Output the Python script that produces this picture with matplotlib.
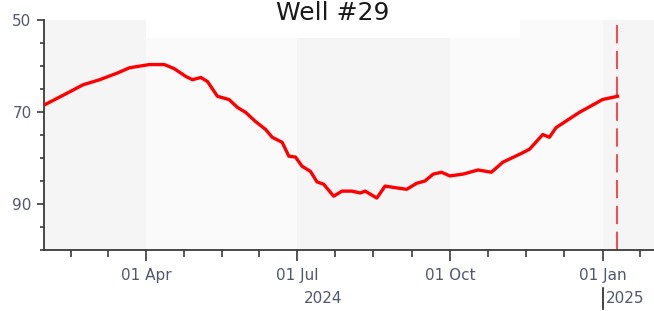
"""Water level chart for Well #29 (depth to water, inverted axis)"""

import matplotlib
matplotlib.use('Agg')
import matplotlib.pyplot as plt
import matplotlib.dates as mdates
from matplotlib.patches import Rectangle
from matplotlib.transforms import blended_transform_factory
import numpy as np
import pandas as pd

# readings
dates = ['2024-01-30', '2024-02-13', '2024-02-23', '2024-03-04',
         '2024-03-15', '2024-03-22', '2024-04-03', '2024-04-12',
         '2024-04-18', '2024-04-25', '2024-04-29', '2024-05-04',
         '2024-05-08', '2024-05-14', '2024-05-21', '2024-05-26',
         '2024-05-31', '2024-06-06', '2024-06-12', '2024-06-16',
         '2024-06-22', '2024-06-26', '2024-06-30', '2024-07-04',
         '2024-07-09', '2024-07-13', '2024-07-17', '2024-07-23',
         '2024-07-28', '2024-08-03', '2024-08-08', '2024-08-11',
         '2024-08-18', '2024-08-23', '2024-08-30', '2024-09-05',
         '2024-09-11', '2024-09-16', '2024-09-21', '2024-09-26',
         '2024-10-01', '2024-10-09', '2024-10-18', '2024-10-26',
         '2024-11-02', '2024-11-12', '2024-11-18', '2024-11-26',
         '2024-11-30', '2024-12-04', '2024-12-18', '2025-01-01',
         '2025-01-10']
levels = [68.6, 66.0, 64.1, 63.0,
          61.5, 60.4, 59.7, 59.7,
          60.6, 62.3, 63.0, 62.5,
          63.4, 66.6, 67.3, 69.0,
          70.1, 72.1, 73.8, 75.5,
          76.6, 79.6, 79.8, 81.8,
          82.9, 85.2, 85.7, 88.3,
          87.2, 87.2, 87.6, 87.2,
          88.7, 86.1, 86.5, 86.8,
          85.5, 85.0, 83.5, 83.1,
          83.9, 83.5, 82.6, 83.1,
          80.9, 79.2, 78.1, 74.9,
          75.5, 73.4, 70.1, 67.3,
          66.6]

title = 'Well #29'
today = '2025-01-10'
quarters = ['2023-10-01', '2024-01-01', '2024-04-01', '2024-07-01',
            '2024-10-01', '2025-01-01', '2025-04-01']
x_range = ['2024-01-30 12:00', '2025-02-01 00:00']
y_major = [50, 70, 90]
label_color = '#4f5870'
axis_color = '#3a3a3a'


def main():
    fig = plt.figure(figsize=(6.54, 3.11), dpi=100)
    ax = fig.add_axes([0.0673, 0.196, 0.9327, 0.740])

    x = pd.to_datetime(dates)
    q = pd.to_datetime(quarters)
    lo, hi = pd.to_datetime(x_range)

    # alternating quarter bands
    shades = ['#f5f5f5', '#fafafa']
    for i in range(len(q) - 1):
        ax.axvspan(q[i], q[i + 1], color=shades[(i + 1) % 2], lw=0, zorder=0)

    ax.plot(x, levels, color='#ff0000', lw=2.4, solid_joinstyle='round',
            zorder=3)
    ax.axvline(pd.to_datetime(today), color='#ff2a2a', lw=1.2,
               dashes=(11, 4.5), zorder=2)

    ax.set_xlim(lo, hi)
    ax.set_ylim(100, 50)

    # ticks
    ax.xaxis.set_major_locator(mdates.MonthLocator(bymonth=[1, 4, 7, 10]))
    ax.xaxis.set_major_formatter(mdates.DateFormatter('%d %b'))
    qn = mdates.date2num(q)
    minor = np.unique(np.concatenate(
        [np.linspace(qn[i], qn[i + 1], 5) for i in range(len(qn) - 1)]))
    ax.xaxis.set_minor_locator(matplotlib.ticker.FixedLocator(minor))
    ax.set_yticks(y_major)
    ax.set_yticks(np.arange(50, 101, 5), minor=True)

    for side in ['top', 'right']:
        ax.spines[side].set_visible(False)
    for side in ['left', 'bottom']:
        ax.spines[side].set_color(axis_color)
        ax.spines[side].set_linewidth(1.3)

    ax.tick_params(axis='both', which='major', colors=axis_color,
                   labelcolor=label_color, labelsize=11, width=1.2)
    ax.tick_params(axis='x', which='major', length=8, pad=5)
    ax.tick_params(axis='y', which='major', length=5, pad=4)
    ax.tick_params(axis='x', which='minor', length=5, width=1.2,
                   colors=axis_color)
    ax.tick_params(axis='y', which='minor', length=3, width=1.2,
                   colors=axis_color)

    # year labels under the month labels
    trans = blended_transform_factory(ax.transData, ax.transAxes)
    y2025 = pd.to_datetime('2025-01-01')
    mid2024 = lo + (y2025 - lo) / 2
    ax.text(mid2024, -0.212, '2024', transform=trans, ha='center',
            va='center', fontsize=11, color=label_color)
    ax.text(y2025 + pd.Timedelta(days=2), -0.212, '2025', transform=trans,
            ha='left', va='center', fontsize=11, color=label_color)
    ax.plot([y2025, y2025], [-0.167, -0.257], transform=trans,
            color='#222222', lw=1.2, clip_on=False)

    # white strip behind the title
    fig.patches.append(Rectangle((146 / 654, 1 - 38 / 311), 374 / 654,
                                 38 / 311, transform=fig.transFigure,
                                 facecolor='white', edgecolor='none',
                                 zorder=1))
    fig.text(333 / 654, 1 - 19.5 / 311, title, ha='center', va='baseline',
             fontsize=18, color='#1a1a1a', zorder=2)

    fig.savefig('out.png', dpi=100)


if __name__ == '__main__':
    main()
